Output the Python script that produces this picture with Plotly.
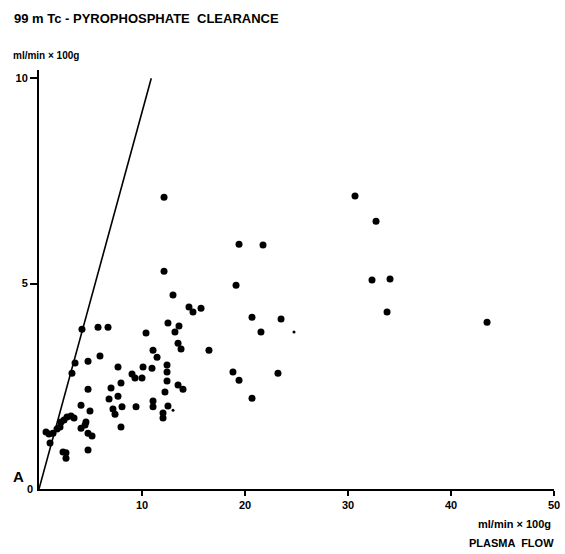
import plotly.graph_objects as go

# Plasma flow (x) and 99mTc-pyrophosphate clearance (y), ml/min x 100g
flow = [4.17, 5.73, 6.70, 3.50, 4.76, 5.92, 3.20, 7.67, 4.76, 6.99, 7.96, 6.80, 7.67,
        4.08, 4.95, 7.18, 7.38, 8.06, 7.96, 3.11, 3.40, 2.72, 2.43, 2.14, 2.04, 1.75,
        4.56, 4.47, 4.08, 4.76, 5.15, 0.68, 0.97, 1.36, 1.07, 2.33, 2.62, 2.62, 4.76,
        12.14, 12.14, 13.01, 14.56, 14.95, 15.73, 12.52, 13.59, 13.20, 10.39, 13.50,
        13.79, 16.50, 11.07, 11.46, 10.10, 10.97, 12.43, 12.43, 9.03, 9.32, 10.00,
        12.43, 13.50, 13.98, 12.23, 11.07, 11.07, 9.42, 12.52, 12.04, 12.04,
        19.42, 21.75, 19.13, 20.68, 23.50, 21.55, 18.83, 19.42, 23.20, 20.68,
        30.68, 32.72, 32.33, 34.08, 33.79, 43.50]
clearance = [3.89, 3.94, 3.94, 3.07, 3.11, 3.24, 2.82, 2.97, 2.43, 2.46, 2.58, 2.19, 2.26,
             2.04, 1.90, 1.95, 1.82, 2.00, 1.51, 1.78, 1.73, 1.75, 1.68, 1.63, 1.51, 1.46,
             1.63, 1.56, 1.48, 1.36, 1.29, 1.39, 1.34, 1.36, 1.12, 0.90, 0.88, 0.75, 0.95,
             7.10, 5.30, 4.72, 4.43, 4.31, 4.40, 4.04, 3.97, 3.82, 3.80, 3.55,
             3.41, 3.38, 3.38, 3.21, 2.97, 2.94, 3.02, 2.85, 2.80, 2.70, 2.70,
             2.63, 2.53, 2.43, 2.36, 2.14, 2.00, 2.00, 2.02, 1.85, 1.73,
             5.96, 5.94, 4.96, 4.18, 4.14, 3.82, 2.85, 2.65, 2.82, 2.21,
             7.13, 6.52, 5.09, 5.11, 4.31, 4.06]
# small (faint) specks
flow_small = [13.01, 24.76]
clearance_small = [1.92, 3.82]

# reference line
line_x = [0, 10.9]
line_y = [0, 10.0]

x_ticks = [10, 20, 30, 40, 50]
y_ticks = [5, 10]

W, H = 565, 554
L, R, T, B = 39, 11, 70, 65
pw, ph = W - L - R, H - T - B


def px(xp):
    return (xp - L) / pw


def py(yp):
    return (H - B - yp) / ph


fig = go.Figure()
fig.add_trace(go.Scatter(x=line_x, y=line_y, mode="lines",
                         line=dict(color="black", width=1.6), hoverinfo="skip"))
fig.add_trace(go.Scatter(x=flow, y=clearance, mode="markers",
                         marker=dict(color="black", size=7)))
fig.add_trace(go.Scatter(x=flow_small, y=clearance_small, mode="markers",
                         marker=dict(color="black", size=3)))

fnt = dict(family="Liberation Sans, Arial, sans-serif", color="black")

fig.update_layout(
    width=W, height=H, margin=dict(l=L, r=R, t=T, b=B),
    paper_bgcolor="white", plot_bgcolor="white", showlegend=False,
    xaxis=dict(range=[0, 50], showline=True, linecolor="black", linewidth=2,
               ticks="outside", tickvals=x_ticks,
               ticktext=[f"<b>{v}</b>" for v in x_ticks],
               ticklen=5, tickwidth=2, tickcolor="black", automargin=False,
               showgrid=False, zeroline=False, tickfont=dict(size=11, **fnt)),
    yaxis=dict(range=[0, 10.2], showline=True, linecolor="black", linewidth=2,
               ticks="outside", tickvals=y_ticks,
               ticktext=[f"<b>{v}</b>" for v in y_ticks],
               ticklen=7, tickwidth=2, tickcolor="black", automargin=False,
               showgrid=False, zeroline=False, tickfont=dict(size=11, **fnt)),
)

ann = [
    dict(text="<b>99 m Tc - PYROPHOSPHATE  CLEARANCE</b>", x=px(12), y=py(18),
         xanchor="left", size=13),
    dict(text="<b>ml/min × 100g</b>", x=px(11), y=py(55), xanchor="left", size=10),
    dict(text="<b>0</b>", x=px(35), y=py(489), xanchor="right", size=11),
    dict(text="<b>A</b>", x=px(11), y=py(476), xanchor="left", size=15),
    dict(text="<b>ml/min × 100g</b>", x=px(553), y=py(524), xanchor="right", size=11),
    dict(text="<b>PLASMA  FLOW</b>", x=px(556), y=py(543), xanchor="right", size=11),
]
for a in ann:
    fig.add_annotation(text=a["text"], x=a["x"], y=a["y"], xref="paper", yref="paper",
                       xanchor=a["xanchor"], yanchor="middle", showarrow=False,
                       font=dict(size=a["size"], **fnt))

fig.write_html("out.html", config={"displayModeBar": False},
               post_script="document.body.style.margin='0';document.body.style.padding='0';")
